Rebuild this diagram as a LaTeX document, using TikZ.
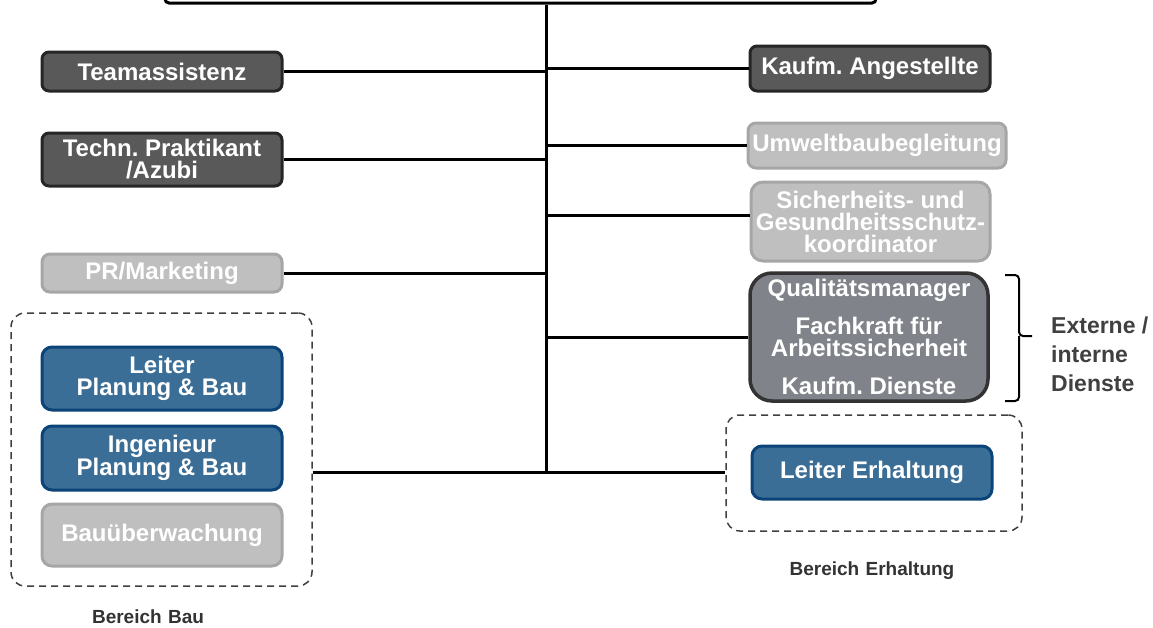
\documentclass[tikz,border=0pt]{standalone}
\usepackage{fontspec}
\setmainfont{Liberation Sans}
\frenchspacing
\definecolor{darkfill}{HTML}{595959}
\definecolor{darkdraw}{HTML}{262626}
\definecolor{lightfill}{HTML}{BFBFBF}
\definecolor{lightdraw}{HTML}{A6A6A6}
\definecolor{bluefill}{HTML}{3B6E97}
\definecolor{bluedraw}{HTML}{0B4478}
\definecolor{qualfill}{HTML}{808389}
\definecolor{qualdraw}{HTML}{333333}
\definecolor{dashdraw}{HTML}{404040}
\definecolor{labeltext}{HTML}{333333}
\tikzset{
  base/.style={inner sep=0pt, text=white, align=center, line width=3pt,
    font=\fontsize{24}{22}\selectfont\bfseries\frenchspacing, minimum width=240pt},
  darkbox/.style={base, fill=darkfill, draw=darkdraw, rounded corners=7pt},
  lightbox/.style={base, fill=lightfill, draw=lightdraw, rounded corners=8pt},
  bluebox/.style={base, fill=bluefill, draw=bluedraw, rounded corners=10pt},
  qualbox/.style={base, fill=qualfill, draw=qualdraw, rounded corners=22pt, line width=3.5pt},
  groupbox/.style={draw=dashdraw, dashed, dash pattern=on 7pt off 5pt, line width=1.5pt,
    rounded corners=14pt, inner sep=0pt},
  conn/.style={draw=black, line width=3pt},
  grouplabel/.style={text=labeltext, font=\fontsize{19}{21}\selectfont\bfseries, inner sep=0pt}
}
\begin{document}
\begin{tikzpicture}[x=1pt,y=-1pt]
\clip (0,0) rectangle (1153,627);
\useasboundingbox (0,0) rectangle (1153,627);

% top box (partially visible)
\node[draw=black, line width=3pt, rounded corners=4pt, minimum width=711pt, minimum height=60pt, inner sep=0pt] (top) at (520.5,-27) {};

% left column
\node[darkbox, minimum height=39pt] (ta) at (162,71.5) {Teamassistenz};
\node[darkbox, minimum height=53pt] (tp) at (162,159.5) {Techn. Praktikant\\/Azubi};
\node[lightbox, minimum height=38pt] (pr) at (162,273) {PR/Marketing};

\node[groupbox, minimum width=301pt, minimum height=273pt] (bau) at (161.5,449.5) {};
\node[bluebox, minimum height=63pt] (lpb) at (162,378.5) {Leiter\\Planung \& Bau};
\node[bluebox, minimum height=64pt] (ipb) at (162,458) {Ingenieur\\Planung \& Bau};
\node[lightbox, minimum height=62pt, rounded corners=10pt] (bue) at (162,535) {Bauüberwachung};
\node[grouplabel] (baulbl) at (148,617) {Bereich\,\,Bau};

% right column
\node[darkbox, minimum height=45pt] (ka) at (870,68.5) {Kaufm. Angestellte};
\node[lightbox, minimum width=258pt, minimum height=45pt] (ub) at (877,145.5) {Umweltbaubegleitung};
\node[lightbox, minimum width=239pt, minimum height=79pt, rounded corners=12pt] (sg) at (870.5,221.5) {Sicherheits- und\\Gesundheitsschutz-\\koordinator};
\node[qualbox, minimum width=238pt, minimum height=128pt] (qm) at (869,337) {Qualitätsmanager\\[14pt]Fachkraft für\\Arbeitssicherheit\\[16pt]Kaufm. Dienste};

\node[groupbox, minimum width=296pt, minimum height=116pt] (erh) at (874,473) {};
\node[bluebox, minimum height=53pt] (le) at (872,472.5) {Leiter Erhaltung};
\node[grouplabel] (erhlbl) at (872,571) {Bereich\,\,Erhaltung};

% brace and label
\coordinate (bt) at (1005,275);
\coordinate (bm) at (1019,336);
\coordinate (bb) at (1005,401);
\draw[line width=2pt, rounded corners=4pt] (bt) -- (bt -| bm) -- (bm) -- ++(13,0);
\draw[line width=2pt, rounded corners=4pt] (bm) -- (bm |- bb) -- (bb);
\node[anchor=west, align=left, text=dashdraw, font=\fontsize{23}{29}\selectfont\bfseries, inner sep=0pt] (ext) at (1051,354) {Externe /\\interne\\Dienste};

% connectors
\coordinate (trunktop) at (546,0);
\coordinate (trunkbot) at (546,472);
\draw[conn] (trunktop |- top.south) -- (trunkbot);
\draw[conn] (ta.east) -- (ta.east -| trunktop);
\draw[conn] (tp.east) -- (tp.east -| trunktop);
\draw[conn] (pr.east) -- (pr.east -| trunktop);
\draw[conn] (ka.west) -- (ka.west -| trunktop);
\draw[conn] (ub.west) -- (ub.west -| trunktop);
\draw[conn] ([yshift=6pt]sg.west) -- ([yshift=6pt]sg.west -| trunktop);
\draw[conn] (qm.west) -- (qm.west -| trunktop);
\draw[conn] (trunkbot -| bau.east) -- (trunkbot) -- (trunkbot -| erh.west);
\end{tikzpicture}
\end{document}
